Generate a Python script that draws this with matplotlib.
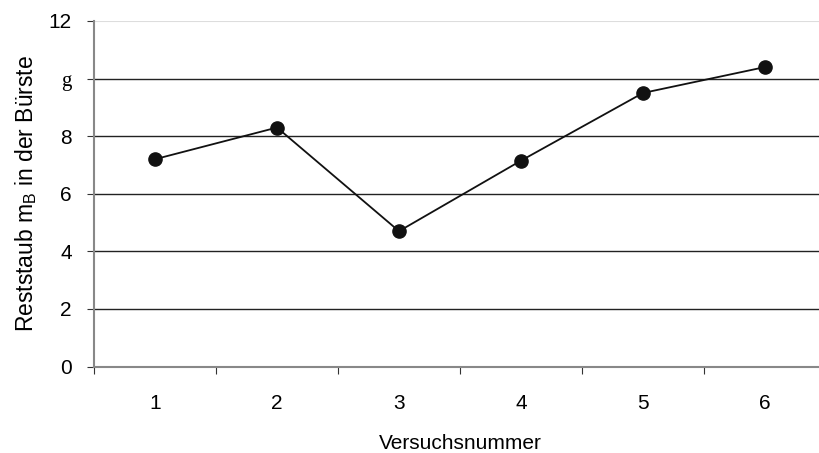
import numpy as np
import matplotlib.pyplot as plt

# Versuchsdaten
versuch = [1, 2, 3, 4, 5, 6]
reststaub = [7.2, 8.3, 4.7, 7.15, 9.5, 10.4]
ytick_vals = [0, 2, 4, 6, 8, 10, 12]
ytick_labels = ["0", "2", "4", "6", "8", "g", "12"]

plt.rcParams['font.family'] = ['Liberation Sans', 'DejaVu Sans']

fig = plt.figure(figsize=(8.19, 4.53), dpi=100)
ax = fig.add_axes([94/819, 86.5/453, 732/819, 345.5/453])

# horizontal grid lines (12 is drawn light)
for v in ytick_vals[1:-1]:
    ax.axhline(v, color='#222222', lw=1.0, zorder=1)
ax.axhline(12, color='#dddddd', lw=1.5, zorder=1)

ax.plot(versuch, reststaub, color='#111111', lw=1.3, marker='o',
        markersize=9.5, markerfacecolor='#111111', markeredgecolor='#111111', zorder=3)

ax.set_xlim(0.5, 6.5)
ax.set_ylim(0, 12)

ax.set_xticks(np.arange(0.5, 7, 1))
ax.set_xticklabels([])
ax.set_xticks(versuch, minor=True)
ax.set_xticklabels([str(v) for v in versuch], minor=True)
ax.tick_params(axis='x', which='major', length=5, color='#333333', direction='out')
ax.tick_params(axis='x', which='minor', length=0, pad=20, labelsize=15)

ax.set_yticks(ytick_vals)
ax.set_yticklabels(ytick_labels)
ax.tick_params(axis='y', length=5, color='#333333', direction='out', labelsize=15, pad=11)
for lab in ax.get_yticklabels():
    if lab.get_text() == "g":
        lab.set_fontfamily(['Liberation Serif', 'DejaVu Serif'])

for side in ['top', 'right']:
    ax.spines[side].set_visible(False)
ax.spines['left'].set_color('#888888')
ax.spines['bottom'].set_color('#888888')
ax.spines['left'].set_linewidth(1.5)
ax.spines['bottom'].set_linewidth(1.5)

ax.set_xlabel("Versuchsnummer", fontsize=15, labelpad=15)
ax.set_ylabel(r"Reststaub m$_\mathregular{B}$ in der Bürste", fontsize=16.5, labelpad=7)

fig.savefig("out.png", dpi=100)
